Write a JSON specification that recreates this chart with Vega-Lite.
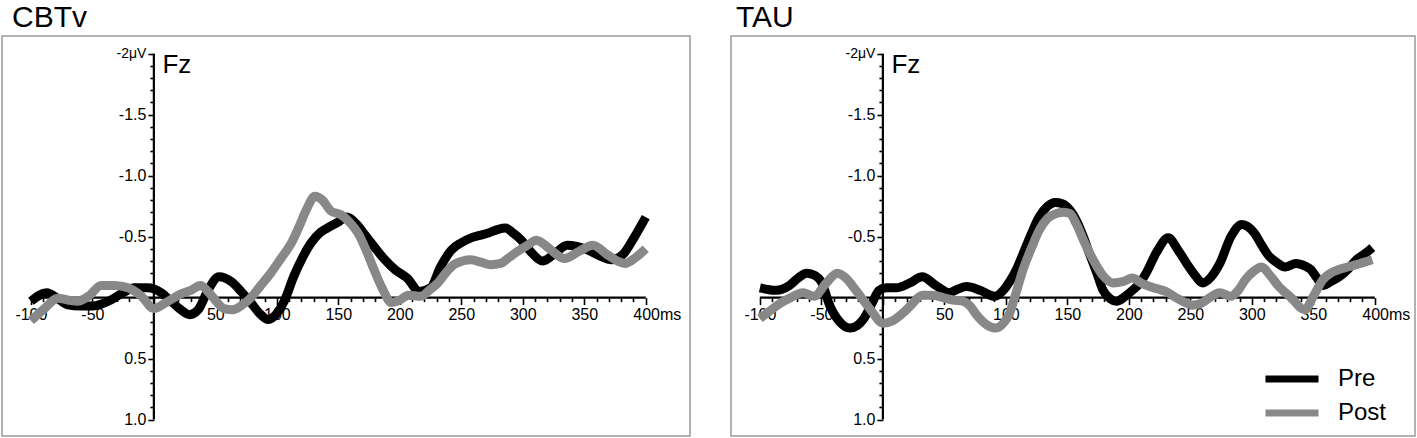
{
  "$schema": "https://vega.github.io/schema/vega-lite/v6.json",
  "background": "white",
  "padding": {"left": 1, "top": 2, "right": 0, "bottom": 0},
  "datasets": {
    "erp": [
      {"g":"CBTv","s":"Pre","t":-100,"v":0.03},{"g":"CBTv","s":"Pre","t":-87,"v":-0.04},{"g":"CBTv","s":"Pre","t":-78,"v":0.01},{"g":"CBTv","s":"Pre","t":-70,"v":0.06},{"g":"CBTv","s":"Pre","t":-60,"v":0.07},{"g":"CBTv","s":"Pre","t":-51,"v":0.07},{"g":"CBTv","s":"Pre","t":-42,"v":0.05},{"g":"CBTv","s":"Pre","t":-35,"v":0.02},{"g":"CBTv","s":"Pre","t":-25,"v":-0.04},{"g":"CBTv","s":"Pre","t":-16,"v":-0.08},{"g":"CBTv","s":"Pre","t":-5,"v":-0.08},{"g":"CBTv","s":"Pre","t":6,"v":-0.04},{"g":"CBTv","s":"Pre","t":15,"v":0.04},{"g":"CBTv","s":"Pre","t":22,"v":0.1},{"g":"CBTv","s":"Pre","t":29,"v":0.14},{"g":"CBTv","s":"Pre","t":36,"v":0.1},{"g":"CBTv","s":"Pre","t":44,"v":-0.06},{"g":"CBTv","s":"Pre","t":53,"v":-0.17},{"g":"CBTv","s":"Pre","t":63,"v":-0.13},{"g":"CBTv","s":"Pre","t":71,"v":-0.05},{"g":"CBTv","s":"Pre","t":78,"v":0.03},{"g":"CBTv","s":"Pre","t":86,"v":0.13},{"g":"CBTv","s":"Pre","t":93,"v":0.18},{"g":"CBTv","s":"Pre","t":100,"v":0.13},{"g":"CBTv","s":"Pre","t":106,"v":0.03},{"g":"CBTv","s":"Pre","t":114,"v":-0.18},{"g":"CBTv","s":"Pre","t":121,"v":-0.33},{"g":"CBTv","s":"Pre","t":128,"v":-0.45},{"g":"CBTv","s":"Pre","t":135,"v":-0.53},{"g":"CBTv","s":"Pre","t":141,"v":-0.57},{"g":"CBTv","s":"Pre","t":150,"v":-0.62},{"g":"CBTv","s":"Pre","t":157,"v":-0.66},{"g":"CBTv","s":"Pre","t":165,"v":-0.6},{"g":"CBTv","s":"Pre","t":172,"v":-0.51},{"g":"CBTv","s":"Pre","t":179,"v":-0.42},{"g":"CBTv","s":"Pre","t":187,"v":-0.32},{"g":"CBTv","s":"Pre","t":196,"v":-0.23},{"g":"CBTv","s":"Pre","t":206,"v":-0.16},{"g":"CBTv","s":"Pre","t":216,"v":-0.05},{"g":"CBTv","s":"Pre","t":225,"v":-0.08},{"g":"CBTv","s":"Pre","t":233,"v":-0.25},{"g":"CBTv","s":"Pre","t":242,"v":-0.39},{"g":"CBTv","s":"Pre","t":250,"v":-0.45},{"g":"CBTv","s":"Pre","t":258,"v":-0.49},{"g":"CBTv","s":"Pre","t":265,"v":-0.51},{"g":"CBTv","s":"Pre","t":272,"v":-0.53},{"g":"CBTv","s":"Pre","t":280,"v":-0.56},{"g":"CBTv","s":"Pre","t":286,"v":-0.57},{"g":"CBTv","s":"Pre","t":292,"v":-0.53},{"g":"CBTv","s":"Pre","t":299,"v":-0.47},{"g":"CBTv","s":"Pre","t":307,"v":-0.37},{"g":"CBTv","s":"Pre","t":316,"v":-0.3},{"g":"CBTv","s":"Pre","t":326,"v":-0.36},{"g":"CBTv","s":"Pre","t":336,"v":-0.43},{"g":"CBTv","s":"Pre","t":344,"v":-0.42},{"g":"CBTv","s":"Pre","t":353,"v":-0.39},{"g":"CBTv","s":"Pre","t":363,"v":-0.34},{"g":"CBTv","s":"Pre","t":372,"v":-0.31},{"g":"CBTv","s":"Pre","t":382,"v":-0.36},{"g":"CBTv","s":"Pre","t":391,"v":-0.5},{"g":"CBTv","s":"Pre","t":400,"v":-0.66},
      {"g":"CBTv","s":"Post","t":-100,"v":0.19},{"g":"CBTv","s":"Post","t":-90,"v":0.1},{"g":"CBTv","s":"Post","t":-78,"v":0.005},{"g":"CBTv","s":"Post","t":-70,"v":0.02},{"g":"CBTv","s":"Post","t":-62,"v":0.03},{"g":"CBTv","s":"Post","t":-52,"v":-0.02},{"g":"CBTv","s":"Post","t":-43,"v":-0.1},{"g":"CBTv","s":"Post","t":-32,"v":-0.1},{"g":"CBTv","s":"Post","t":-21,"v":-0.08},{"g":"CBTv","s":"Post","t":-10,"v":-0.01},{"g":"CBTv","s":"Post","t":0,"v":0.09},{"g":"CBTv","s":"Post","t":10,"v":0.04},{"g":"CBTv","s":"Post","t":22,"v":-0.03},{"g":"CBTv","s":"Post","t":30,"v":-0.06},{"g":"CBTv","s":"Post","t":38,"v":-0.1},{"g":"CBTv","s":"Post","t":44,"v":-0.05},{"g":"CBTv","s":"Post","t":49,"v":0.01},{"g":"CBTv","s":"Post","t":57,"v":0.09},{"g":"CBTv","s":"Post","t":64,"v":0.1},{"g":"CBTv","s":"Post","t":72,"v":0.06},{"g":"CBTv","s":"Post","t":79,"v":0.0},{"g":"CBTv","s":"Post","t":87,"v":-0.1},{"g":"CBTv","s":"Post","t":95,"v":-0.2},{"g":"CBTv","s":"Post","t":104,"v":-0.33},{"g":"CBTv","s":"Post","t":112,"v":-0.45},{"g":"CBTv","s":"Post","t":118,"v":-0.58},{"g":"CBTv","s":"Post","t":124,"v":-0.72},{"g":"CBTv","s":"Post","t":131,"v":-0.83},{"g":"CBTv","s":"Post","t":137,"v":-0.8},{"g":"CBTv","s":"Post","t":144,"v":-0.71},{"g":"CBTv","s":"Post","t":152,"v":-0.68},{"g":"CBTv","s":"Post","t":159,"v":-0.62},{"g":"CBTv","s":"Post","t":166,"v":-0.53},{"g":"CBTv","s":"Post","t":173,"v":-0.38},{"g":"CBTv","s":"Post","t":179,"v":-0.23},{"g":"CBTv","s":"Post","t":186,"v":-0.07},{"g":"CBTv","s":"Post","t":193,"v":0.04},{"g":"CBTv","s":"Post","t":200,"v":0.02},{"g":"CBTv","s":"Post","t":207,"v":-0.02},{"g":"CBTv","s":"Post","t":217,"v":-0.01},{"g":"CBTv","s":"Post","t":224,"v":-0.06},{"g":"CBTv","s":"Post","t":231,"v":-0.12},{"g":"CBTv","s":"Post","t":238,"v":-0.21},{"g":"CBTv","s":"Post","t":244,"v":-0.27},{"g":"CBTv","s":"Post","t":251,"v":-0.3},{"g":"CBTv","s":"Post","t":258,"v":-0.31},{"g":"CBTv","s":"Post","t":266,"v":-0.29},{"g":"CBTv","s":"Post","t":274,"v":-0.27},{"g":"CBTv","s":"Post","t":282,"v":-0.28},{"g":"CBTv","s":"Post","t":289,"v":-0.33},{"g":"CBTv","s":"Post","t":296,"v":-0.38},{"g":"CBTv","s":"Post","t":304,"v":-0.43},{"g":"CBTv","s":"Post","t":311,"v":-0.47},{"g":"CBTv","s":"Post","t":317,"v":-0.44},{"g":"CBTv","s":"Post","t":323,"v":-0.39},{"g":"CBTv","s":"Post","t":334,"v":-0.32},{"g":"CBTv","s":"Post","t":346,"v":-0.38},{"g":"CBTv","s":"Post","t":357,"v":-0.43},{"g":"CBTv","s":"Post","t":369,"v":-0.35},{"g":"CBTv","s":"Post","t":377,"v":-0.3},{"g":"CBTv","s":"Post","t":383,"v":-0.28},{"g":"CBTv","s":"Post","t":392,"v":-0.33},{"g":"CBTv","s":"Post","t":400,"v":-0.4},
      {"g":"TAU","s":"Pre","t":-100,"v":-0.08},{"g":"TAU","s":"Pre","t":-87,"v":-0.06},{"g":"TAU","s":"Pre","t":-76,"v":-0.1},{"g":"TAU","s":"Pre","t":-69,"v":-0.16},{"g":"TAU","s":"Pre","t":-62,"v":-0.2},{"g":"TAU","s":"Pre","t":-55,"v":-0.18},{"g":"TAU","s":"Pre","t":-50,"v":-0.13},{"g":"TAU","s":"Pre","t":-43,"v":0.07},{"g":"TAU","s":"Pre","t":-35,"v":0.2},{"g":"TAU","s":"Pre","t":-27,"v":0.25},{"g":"TAU","s":"Pre","t":-21,"v":0.23},{"g":"TAU","s":"Pre","t":-16,"v":0.18},{"g":"TAU","s":"Pre","t":-9,"v":0.05},{"g":"TAU","s":"Pre","t":-3,"v":-0.06},{"g":"TAU","s":"Pre","t":3,"v":-0.08},{"g":"TAU","s":"Pre","t":11,"v":-0.08},{"g":"TAU","s":"Pre","t":22,"v":-0.12},{"g":"TAU","s":"Pre","t":32,"v":-0.17},{"g":"TAU","s":"Pre","t":43,"v":-0.1},{"g":"TAU","s":"Pre","t":54,"v":-0.04},{"g":"TAU","s":"Pre","t":61,"v":-0.07},{"g":"TAU","s":"Pre","t":68,"v":-0.09},{"g":"TAU","s":"Pre","t":79,"v":-0.06},{"g":"TAU","s":"Pre","t":91,"v":-0.01},{"g":"TAU","s":"Pre","t":98,"v":-0.06},{"g":"TAU","s":"Pre","t":103,"v":-0.13},{"g":"TAU","s":"Pre","t":109,"v":-0.24},{"g":"TAU","s":"Pre","t":114,"v":-0.36},{"g":"TAU","s":"Pre","t":121,"v":-0.53},{"g":"TAU","s":"Pre","t":127,"v":-0.66},{"g":"TAU","s":"Pre","t":134,"v":-0.75},{"g":"TAU","s":"Pre","t":140,"v":-0.78},{"g":"TAU","s":"Pre","t":146,"v":-0.77},{"g":"TAU","s":"Pre","t":152,"v":-0.72},{"g":"TAU","s":"Pre","t":157,"v":-0.64},{"g":"TAU","s":"Pre","t":163,"v":-0.5},{"g":"TAU","s":"Pre","t":168,"v":-0.36},{"g":"TAU","s":"Pre","t":174,"v":-0.2},{"g":"TAU","s":"Pre","t":179,"v":-0.06},{"g":"TAU","s":"Pre","t":185,"v":0.01},{"g":"TAU","s":"Pre","t":190,"v":0.03},{"g":"TAU","s":"Pre","t":197,"v":-0.01},{"g":"TAU","s":"Pre","t":203,"v":-0.06},{"g":"TAU","s":"Pre","t":209,"v":-0.12},{"g":"TAU","s":"Pre","t":214,"v":-0.2},{"g":"TAU","s":"Pre","t":223,"v":-0.38},{"g":"TAU","s":"Pre","t":232,"v":-0.49},{"g":"TAU","s":"Pre","t":240,"v":-0.39},{"g":"TAU","s":"Pre","t":247,"v":-0.28},{"g":"TAU","s":"Pre","t":254,"v":-0.18},{"g":"TAU","s":"Pre","t":260,"v":-0.12},{"g":"TAU","s":"Pre","t":267,"v":-0.17},{"g":"TAU","s":"Pre","t":274,"v":-0.28},{"g":"TAU","s":"Pre","t":283,"v":-0.5},{"g":"TAU","s":"Pre","t":292,"v":-0.6},{"g":"TAU","s":"Pre","t":302,"v":-0.53},{"g":"TAU","s":"Pre","t":308,"v":-0.43},{"g":"TAU","s":"Pre","t":314,"v":-0.34},{"g":"TAU","s":"Pre","t":320,"v":-0.29},{"g":"TAU","s":"Pre","t":327,"v":-0.25},{"g":"TAU","s":"Pre","t":336,"v":-0.28},{"g":"TAU","s":"Pre","t":343,"v":-0.26},{"g":"TAU","s":"Pre","t":348,"v":-0.23},{"g":"TAU","s":"Pre","t":353,"v":-0.16},{"g":"TAU","s":"Pre","t":358,"v":-0.1},{"g":"TAU","s":"Pre","t":364,"v":-0.13},{"g":"TAU","s":"Pre","t":371,"v":-0.17},{"g":"TAU","s":"Pre","t":378,"v":-0.23},{"g":"TAU","s":"Pre","t":385,"v":-0.31},{"g":"TAU","s":"Pre","t":392,"v":-0.36},{"g":"TAU","s":"Pre","t":398,"v":-0.41},
      {"g":"TAU","s":"Post","t":-100,"v":0.17},{"g":"TAU","s":"Post","t":-92,"v":0.11},{"g":"TAU","s":"Post","t":-84,"v":0.05},{"g":"TAU","s":"Post","t":-75,"v":0.0},{"g":"TAU","s":"Post","t":-65,"v":-0.04},{"g":"TAU","s":"Post","t":-56,"v":-0.01},{"g":"TAU","s":"Post","t":-46,"v":-0.12},{"g":"TAU","s":"Post","t":-37,"v":-0.2},{"g":"TAU","s":"Post","t":-30,"v":-0.16},{"g":"TAU","s":"Post","t":-22,"v":-0.06},{"g":"TAU","s":"Post","t":-10,"v":0.1},{"g":"TAU","s":"Post","t":0,"v":0.21},{"g":"TAU","s":"Post","t":8,"v":0.19},{"g":"TAU","s":"Post","t":16,"v":0.13},{"g":"TAU","s":"Post","t":24,"v":0.05},{"g":"TAU","s":"Post","t":32,"v":-0.02},{"g":"TAU","s":"Post","t":40,"v":-0.02},{"g":"TAU","s":"Post","t":49,"v":0.0},{"g":"TAU","s":"Post","t":57,"v":0.02},{"g":"TAU","s":"Post","t":65,"v":0.03},{"g":"TAU","s":"Post","t":71,"v":0.07},{"g":"TAU","s":"Post","t":76,"v":0.14},{"g":"TAU","s":"Post","t":84,"v":0.22},{"g":"TAU","s":"Post","t":92,"v":0.25},{"g":"TAU","s":"Post","t":98,"v":0.21},{"g":"TAU","s":"Post","t":103,"v":0.13},{"g":"TAU","s":"Post","t":108,"v":-0.03},{"g":"TAU","s":"Post","t":114,"v":-0.23},{"g":"TAU","s":"Post","t":121,"v":-0.41},{"g":"TAU","s":"Post","t":127,"v":-0.55},{"g":"TAU","s":"Post","t":134,"v":-0.65},{"g":"TAU","s":"Post","t":141,"v":-0.69},{"g":"TAU","s":"Post","t":147,"v":-0.7},{"g":"TAU","s":"Post","t":152,"v":-0.69},{"g":"TAU","s":"Post","t":157,"v":-0.61},{"g":"TAU","s":"Post","t":164,"v":-0.45},{"g":"TAU","s":"Post","t":171,"v":-0.31},{"g":"TAU","s":"Post","t":179,"v":-0.18},{"g":"TAU","s":"Post","t":187,"v":-0.12},{"g":"TAU","s":"Post","t":195,"v":-0.13},{"g":"TAU","s":"Post","t":203,"v":-0.16},{"g":"TAU","s":"Post","t":210,"v":-0.12},{"g":"TAU","s":"Post","t":217,"v":-0.09},{"g":"TAU","s":"Post","t":224,"v":-0.07},{"g":"TAU","s":"Post","t":230,"v":-0.05},{"g":"TAU","s":"Post","t":240,"v":0.01},{"g":"TAU","s":"Post","t":252,"v":0.06},{"g":"TAU","s":"Post","t":258,"v":0.05},{"g":"TAU","s":"Post","t":263,"v":0.02},{"g":"TAU","s":"Post","t":274,"v":-0.04},{"g":"TAU","s":"Post","t":283,"v":-0.01},{"g":"TAU","s":"Post","t":289,"v":-0.06},{"g":"TAU","s":"Post","t":295,"v":-0.15},{"g":"TAU","s":"Post","t":302,"v":-0.22},{"g":"TAU","s":"Post","t":308,"v":-0.25},{"g":"TAU","s":"Post","t":315,"v":-0.18},{"g":"TAU","s":"Post","t":322,"v":-0.09},{"g":"TAU","s":"Post","t":332,"v":0.0},{"g":"TAU","s":"Post","t":343,"v":0.1},{"g":"TAU","s":"Post","t":350,"v":-0.01},{"g":"TAU","s":"Post","t":358,"v":-0.15},{"g":"TAU","s":"Post","t":364,"v":-0.2},{"g":"TAU","s":"Post","t":371,"v":-0.23},{"g":"TAU","s":"Post","t":385,"v":-0.27},{"g":"TAU","s":"Post","t":398,"v":-0.31}
    ],
    "one": [{}]
  },
  "config": {
    "font": "Liberation Sans",
    "view": {"stroke": "#9a9a9a", "strokeWidth": 1.5},
    "title": {"fontSize": 30, "fontWeight": "normal", "anchor": "start", "frame": "group", "baseline": "alphabetic", "offset": 3, "color": "#000000"}
  },
  "resolve": {"legend": {"color": "independent"}},
  "spacing": 39,
  "hconcat": [
    {
      "title": {"text": "CBTv", "dx": 10},
      "width": 688,
      "height": 400,
      "resolve": {"axis": {"x": "independent", "y": "independent"}},
      "layer": [
        {
          "data": {"name": "one"},
          "mark": {"type": "rule", "strokeWidth": 2.2, "color": "#000000"},
          "encoding": {
            "x": {"datum": -100, "type": "quantitative", "scale": {"domain": [-123.5, 436], "nice": false, "zero": false}, "axis": null},
            "x2": {"datum": 400},
            "y": {"datum": 0, "type": "quantitative", "scale": {"domain": [-2.145, 1.135], "nice": false, "zero": false, "reverse": true}, "axis": null}
          }
        },
        {
          "data": {"name": "one"},
          "mark": {"type": "rule", "strokeWidth": 2.2, "color": "#000000"},
          "encoding": {
            "x": {"datum": 0, "type": "quantitative", "scale": {"domain": [-123.5, 436], "nice": false, "zero": false}, "axis": null},
            "y": {"datum": -2, "type": "quantitative", "scale": {"domain": [-2.145, 1.135], "nice": false, "zero": false, "reverse": true}, "axis": null},
            "y2": {"datum": 1}
          }
        },
        {
          "data": {"name": "erp"},
          "transform": [{"filter": "datum.g === 'CBTv' && datum.s === 'Pre'"}],
          "mark": {"type": "line", "strokeWidth": 9, "interpolate": "monotone"},
          "encoding": {
            "x": {"field": "t", "type": "quantitative", "scale": {"domain": [-123.5, 436], "nice": false, "zero": false},
              "axis": {"orient": "bottom", "offset": -138.4, "domain": false, "grid": false, "title": null,
                "values": [-100,-90,-80,-70,-60,-50,-40,-30,-20,-10,0,10,20,30,40,50,60,70,80,90,100,110,120,130,140,150,160,170,180,190,200,210,220,230,240,250,260,270,280,290,300,310,320,330,340,350,360,370,380,390,400],
                "tickSize": {"condition": {"test": "datum.value % 50 === 0", "value": 7}, "value": 4},
                "tickWidth": 1.6, "tickColor": "#000000",
                "labelExpr": "datum.value % 50 === 0 && datum.value !== 0 ? (datum.value === 400 ? '400ms' : '' + datum.value) : ''",
                "labelFontSize": 16, "labelColor": "#000000", "labelPadding": 2, "labelOverlap": false, "labelBound": false, "labelFlush": false,
                "labelAlign": {"condition": {"test": "datum.value === 400", "value": "left"}, "value": "center"},
                "labelOffset": {"condition": {"test": "datum.value === 400", "value": -13}, "value": 0}}},
            "y": {"field": "v", "type": "quantitative", "scale": {"domain": [-2.145, 1.135], "nice": false, "zero": false, "reverse": true},
              "axis": {"orient": "left", "offset": -151.9, "domain": false, "grid": false, "title": null,
                "values": [-2,-1.9,-1.8,-1.7,-1.6,-1.5,-1.4,-1.3,-1.2,-1.1,-1,-0.9,-0.8,-0.7,-0.6,-0.5,-0.4,-0.3,-0.2,-0.1,0,0.1,0.2,0.3,0.4,0.5,0.6,0.7,0.8,0.9,1],
                "tickSize": {"condition": {"test": "round(datum.value * 10) % 5 === 0", "value": 6}, "value": 4},
                "tickWidth": 1.6, "tickColor": "#000000",
                "labelExpr": "datum.value === -2 ? '-2μV' : datum.value === -1.5 ? '-1.5' : datum.value === -1 ? '-1.0' : datum.value === -0.5 ? '-0.5' : datum.value === 0.5 ? '0.5' : datum.value === 1 ? '1.0' : ''",
                "labelFontSize": {"condition": {"test": "datum.value === -2", "value": 14}, "value": 16},
                "labelColor": "#000000", "labelPadding": 2, "labelOverlap": false, "labelBound": false, "labelFlush": false}},
            "color": {"field": "s", "type": "nominal", "scale": {"domain": ["Pre", "Post"], "range": ["#000000", "#888888"]}, "legend": null}
          }
        },
        {
          "data": {"name": "erp"},
          "transform": [{"filter": "datum.g === 'CBTv' && datum.s === 'Post'"}],
          "mark": {"type": "line", "strokeWidth": 9, "interpolate": "monotone"},
          "encoding": {
            "x": {"field": "t", "type": "quantitative", "scale": {"domain": [-123.5, 436], "nice": false, "zero": false}, "axis": null},
            "y": {"field": "v", "type": "quantitative", "scale": {"domain": [-2.145, 1.135], "nice": false, "zero": false, "reverse": true}, "axis": null},
            "color": {"field": "s", "type": "nominal", "scale": {"domain": ["Pre", "Post"], "range": ["#000000", "#888888"]}, "legend": null}
          }
        },
        {
          "data": {"name": "one"},
          "mark": {"type": "text", "text": "Fz", "fontSize": 26, "align": "left", "baseline": "alphabetic", "color": "#000000"},
          "encoding": {
            "x": {"datum": 7, "type": "quantitative", "scale": {"domain": [-123.5, 436], "nice": false, "zero": false}, "axis": null},
            "y": {"datum": -1.84, "type": "quantitative", "scale": {"domain": [-2.145, 1.135], "nice": false, "zero": false, "reverse": true}, "axis": null}
          }
        }
      ]
    },
    {
      "title": {"text": "TAU", "dx": 5},
      "width": 684,
      "height": 400,
      "resolve": {"axis": {"x": "independent", "y": "independent"}},
      "layer": [
        {
          "data": {"name": "one"},
          "mark": {"type": "rule", "strokeWidth": 2.2, "color": "#000000"},
          "encoding": {
            "x": {"datum": -100, "type": "quantitative", "scale": {"domain": [-123.5, 432.7], "nice": false, "zero": false}, "axis": null},
            "x2": {"datum": 400},
            "y": {"datum": 0, "type": "quantitative", "scale": {"domain": [-2.145, 1.135], "nice": false, "zero": false, "reverse": true}, "axis": null}
          }
        },
        {
          "data": {"name": "one"},
          "mark": {"type": "rule", "strokeWidth": 2.2, "color": "#000000"},
          "encoding": {
            "x": {"datum": 0, "type": "quantitative", "scale": {"domain": [-123.5, 432.7], "nice": false, "zero": false}, "axis": null},
            "y": {"datum": -2, "type": "quantitative", "scale": {"domain": [-2.145, 1.135], "nice": false, "zero": false, "reverse": true}, "axis": null},
            "y2": {"datum": 1}
          }
        },
        {
          "data": {"name": "erp"},
          "transform": [{"filter": "datum.g === 'TAU' && datum.s === 'Pre'"}],
          "mark": {"type": "line", "strokeWidth": 9, "interpolate": "monotone"},
          "encoding": {
            "x": {"field": "t", "type": "quantitative", "scale": {"domain": [-123.5, 432.7], "nice": false, "zero": false},
              "axis": {"orient": "bottom", "offset": -138.4, "domain": false, "grid": false, "title": null,
                "values": [-100,-90,-80,-70,-60,-50,-40,-30,-20,-10,0,10,20,30,40,50,60,70,80,90,100,110,120,130,140,150,160,170,180,190,200,210,220,230,240,250,260,270,280,290,300,310,320,330,340,350,360,370,380,390,400],
                "tickSize": {"condition": {"test": "datum.value % 50 === 0", "value": 7}, "value": 4},
                "tickWidth": 1.6, "tickColor": "#000000",
                "labelExpr": "datum.value % 50 === 0 && datum.value !== 0 ? (datum.value === 400 ? '400ms' : '' + datum.value) : ''",
                "labelFontSize": 16, "labelColor": "#000000", "labelPadding": 2, "labelOverlap": false, "labelBound": false, "labelFlush": false,
                "labelAlign": {"condition": {"test": "datum.value === 400", "value": "left"}, "value": "center"},
                "labelOffset": {"condition": {"test": "datum.value === 400", "value": -13}, "value": 0}}},
            "y": {"field": "v", "type": "quantitative", "scale": {"domain": [-2.145, 1.135], "nice": false, "zero": false, "reverse": true},
              "axis": {"orient": "left", "offset": -151.9, "domain": false, "grid": false, "title": null,
                "values": [-2,-1.9,-1.8,-1.7,-1.6,-1.5,-1.4,-1.3,-1.2,-1.1,-1,-0.9,-0.8,-0.7,-0.6,-0.5,-0.4,-0.3,-0.2,-0.1,0,0.1,0.2,0.3,0.4,0.5,0.6,0.7,0.8,0.9,1],
                "tickSize": {"condition": {"test": "round(datum.value * 10) % 5 === 0", "value": 6}, "value": 4},
                "tickWidth": 1.6, "tickColor": "#000000",
                "labelExpr": "datum.value === -2 ? '-2μV' : datum.value === -1.5 ? '-1.5' : datum.value === -1 ? '-1.0' : datum.value === -0.5 ? '-0.5' : datum.value === 0.5 ? '0.5' : datum.value === 1 ? '1.0' : ''",
                "labelFontSize": {"condition": {"test": "datum.value === -2", "value": 14}, "value": 16},
                "labelColor": "#000000", "labelPadding": 2, "labelOverlap": false, "labelBound": false, "labelFlush": false}},
            "color": {"field": "s", "type": "nominal", "scale": {"domain": ["Pre", "Post"], "range": ["#000000", "#888888"]},
              "legend": {"orient": "none", "legendX": 549, "legendY": 331, "title": null, "symbolType": "M-5,0H5", "symbolSize": 112.4, "symbolStrokeWidth": 7, "labelFontSize": 24, "labelOffset": 34, "rowPadding": 6, "padding": 0, "labelColor": "#000000"}}
          }
        },
        {
          "data": {"name": "erp"},
          "transform": [{"filter": "datum.g === 'TAU' && datum.s === 'Post'"}],
          "mark": {"type": "line", "strokeWidth": 9, "interpolate": "monotone"},
          "encoding": {
            "x": {"field": "t", "type": "quantitative", "scale": {"domain": [-123.5, 432.7], "nice": false, "zero": false}, "axis": null},
            "y": {"field": "v", "type": "quantitative", "scale": {"domain": [-2.145, 1.135], "nice": false, "zero": false, "reverse": true}, "axis": null},
            "color": {"field": "s", "type": "nominal", "scale": {"domain": ["Pre", "Post"], "range": ["#000000", "#888888"]},
              "legend": {"orient": "none", "legendX": 549, "legendY": 331, "title": null, "symbolType": "M-5,0H5", "symbolSize": 112.4, "symbolStrokeWidth": 7, "labelFontSize": 24, "labelOffset": 34, "rowPadding": 6, "padding": 0, "labelColor": "#000000"}}
          }
        },
        {
          "data": {"name": "one"},
          "mark": {"type": "text", "text": "Fz", "fontSize": 26, "align": "left", "baseline": "alphabetic", "color": "#000000"},
          "encoding": {
            "x": {"datum": 7, "type": "quantitative", "scale": {"domain": [-123.5, 432.7], "nice": false, "zero": false}, "axis": null},
            "y": {"datum": -1.84, "type": "quantitative", "scale": {"domain": [-2.145, 1.135], "nice": false, "zero": false, "reverse": true}, "axis": null}
          }
        }
      ]
    }
  ]
}
